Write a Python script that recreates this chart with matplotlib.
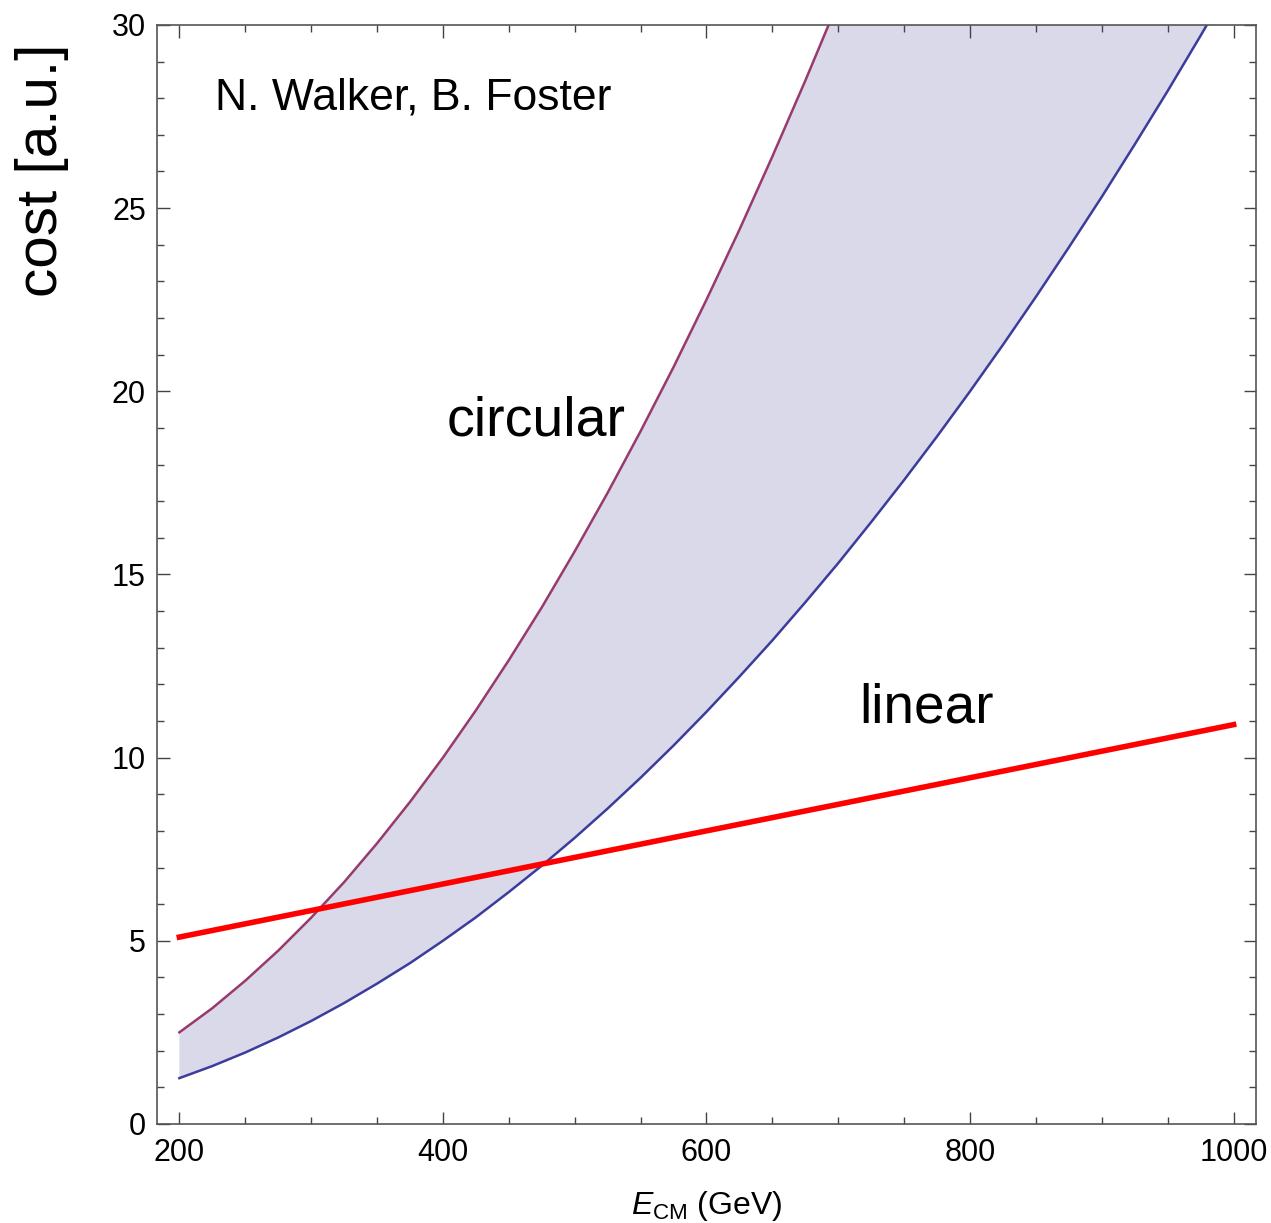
import numpy as np
import matplotlib
matplotlib.use('Agg')
import matplotlib.pyplot as plt
from matplotlib.ticker import MultipleLocator

plt.rcParams['font.family'] = ['Liberation Sans', 'DejaVu Sans']
plt.rcParams['mathtext.fontset'] = 'custom'
plt.rcParams['mathtext.rm'] = 'Liberation Sans'
plt.rcParams['mathtext.it'] = 'Liberation Sans:italic'

# centre-of-mass energy (GeV)
energy = [200, 225, 250, 275, 300, 325, 350, 375, 400, 425, 450, 475, 500,
          525, 550, 575, 600, 625, 650, 675, 700, 725, 750, 775, 800, 825,
          850, 875, 900, 925, 950, 975, 1000]

# circular collider cost band (upper / lower edge)
circ_high = [2.50, 3.16, 3.91, 4.73, 5.63, 6.60, 7.66, 8.79, 10.00, 11.29,
             12.66, 14.10, 15.63, 17.23, 18.91, 20.66, 22.50, 24.41, 26.41,
             28.48, 30.63, 32.85, 35.16, 37.54, 40.00, 42.54, 45.16, 47.85,
             50.63, 53.48, 56.41, 59.41, 62.50]
circ_low = [1.25, 1.58, 1.95, 2.36, 2.81, 3.30, 3.83, 4.39, 5.00, 5.64, 6.33,
            7.05, 7.81, 8.61, 9.45, 10.33, 11.25, 12.21, 13.20, 14.24, 15.31,
            16.43, 17.58, 18.77, 20.00, 21.27, 22.58, 23.93, 25.31, 26.74,
            28.20, 29.71, 31.25]

# linear collider cost
lin_energy = [200, 1000]
lin_cost = [5.1, 10.9]

fig = plt.figure(figsize=(12.71, 12.23), dpi=100)
ax = fig.add_axes([0.1235, 0.081, 0.8647, 0.8986])

ax.fill_between(energy, circ_low, circ_high, color='#d9d9ea', lw=0)
ax.plot(energy, circ_high, color='#993a6c', lw=1.8)
ax.plot(energy, circ_low, color='#3c3c9c', lw=1.8)
ax.plot(lin_energy, lin_cost, color='#ff0000', lw=4)

ax.set_xlim(183, 1017)
ax.set_ylim(0, 30)

ax.xaxis.set_major_locator(MultipleLocator(200))
ax.xaxis.set_minor_locator(MultipleLocator(50))
ax.yaxis.set_major_locator(MultipleLocator(5))
ax.yaxis.set_minor_locator(MultipleLocator(1))
ax.tick_params(which='both', direction='in', top=True, right=True,
               color='#444444', labelsize=22)
ax.tick_params(which='major', length=9, width=1)
ax.tick_params(which='minor', length=5, width=1)
ax.tick_params(axis='x', which='major', pad=10)
ax.tick_params(axis='y', which='major', pad=8)
for s in ax.spines.values():
    s.set_color('#555555')
    s.set_linewidth(1.2)

ax.set_xlabel(r'$\mathit{E}_{\mathrm{CM}}$ (GeV)', fontsize=23, labelpad=15)
ax.set_ylabel('cost [a.u.]', fontsize=42)
ax.yaxis.label.set_va('center')
ax.yaxis.set_label_coords(-0.105, 0.868)

ax.text(227, 28.0, 'N. Walker, B. Foster', fontsize=32, va='center')
ax.text(403, 18.8, 'circular', fontsize=40)
ax.text(716, 10.95, 'linear', fontsize=39.5)

plt.savefig('out.png', dpi=100)
